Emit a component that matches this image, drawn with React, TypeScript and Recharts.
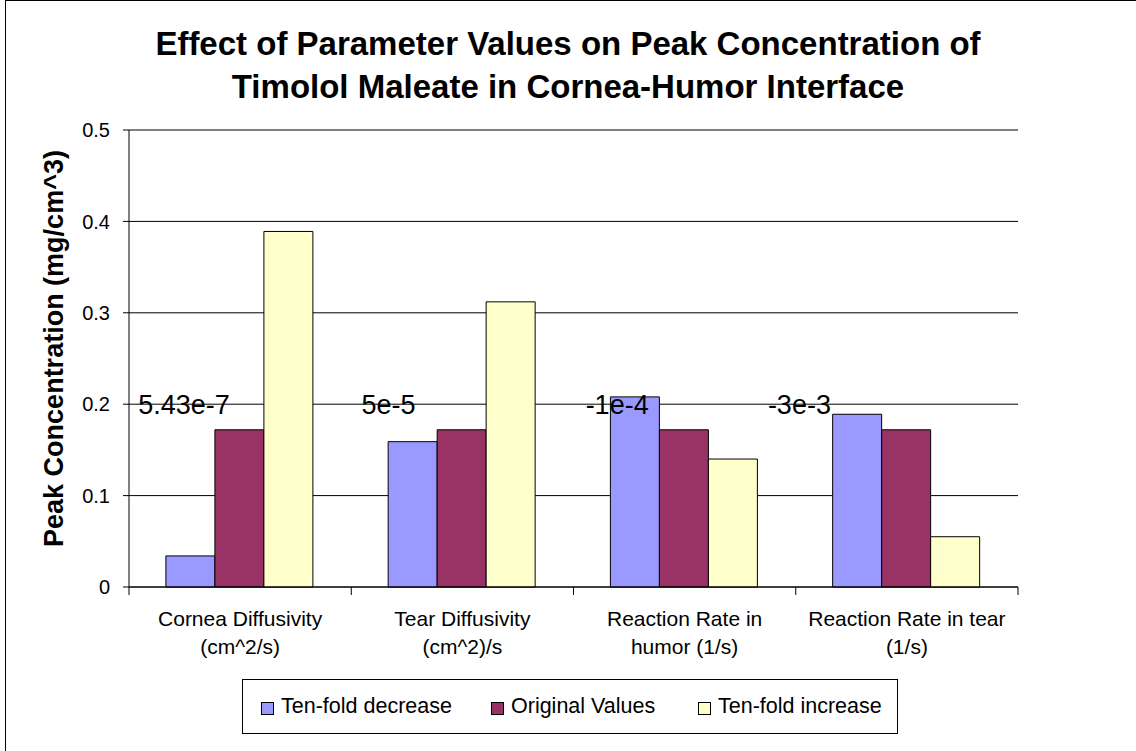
import React from 'react';
import { BarChart, Bar, XAxis, YAxis, CartesianGrid, Legend, ReferenceDot } from 'recharts';

const categories = [
  'Cornea Diffusivity\n(cm^2/s)',
  'Tear Diffusivity\n(cm^2)/s',
  'Reaction Rate in\nhumor (1/s)',
  'Reaction Rate in tear\n(1/s)',
];
const tenFoldDecrease = [0.034, 0.159, 0.208, 0.189];
const originalValues = [0.172, 0.172, 0.172, 0.172];
const tenFoldIncrease = [0.389, 0.312, 0.14, 0.055];
const parameterLabels = ['5.43e-7', '5e-5', '-1e-4', '-3e-3'];
const labelLevel = 0.2;
const yTicks = [0, 0.1, 0.2, 0.3, 0.4, 0.5];
const seriesNames = ['Ten-fold decrease', 'Original Values', 'Ten-fold increase'];
const seriesKeys = ['decrease', 'original', 'increase'];
const seriesColors = ['#9999FF', '#993366', '#FFFFCC'];
const titleLines = ['Effect of Parameter Values on Peak Concentration of', 'Timolol Maleate in Cornea-Humor Interface'];
const yAxisTitle = 'Peak Concentration (mg/cm^3)';

const data = categories.map((c, i) => ({
  name: c,
  decrease: tenFoldDecrease[i],
  original: originalValues[i],
  increase: tenFoldIncrease[i],
}));

const FONT = '"Liberation Sans", Arial, sans-serif';
const PLOT_LEFT = 129;
const PLOT_RIGHT = 1018;
const BAND = (PLOT_RIGHT - PLOT_LEFT) / categories.length;
const labelDx = [-102, -101, -99, -139];
const legendItemLeft = [18, 248, 455];

const CategoryTick = (props: any) => {
  const { x, y, payload, index } = props;
  const lines = String(payload.value).split('\n');
  return (
    <g>
      <line x1={x - BAND / 2} x2={x - BAND / 2} y1={y} y2={y + 8} stroke="#000" strokeWidth={1} />
      {index === categories.length - 1 && (
        <line x1={x + BAND / 2} x2={x + BAND / 2} y1={y} y2={y + 8} stroke="#000" strokeWidth={1} />
      )}
      {lines.map((l, i) => (
        <text key={i} x={x} y={y + 38.5 + i * 28} textAnchor="middle" fontSize={21} fontFamily={FONT} fill="#000">
          {l}
        </text>
      ))}
    </g>
  );
};

const renderLegend = () => (
  <div
    style={{
      position: 'relative',
      boxSizing: 'border-box',
      width: 656,
      height: 55,
      border: '1px solid #000',
      fontFamily: FONT,
      fontSize: 21.5,
      color: '#000',
      background: '#fff',
    }}
  >
    {seriesNames.map((n, i) => (
      <div
        key={n}
        style={{
          position: 'absolute',
          left: legendItemLeft[i],
          top: 0,
          height: 53,
          display: 'flex',
          alignItems: 'center',
          whiteSpace: 'nowrap',
        }}
      >
        <span
          style={{
            display: 'inline-block',
            boxSizing: 'border-box',
            width: 13,
            height: 13,
            border: '1px solid #000',
            background: seriesColors[i],
            marginRight: 7,
            marginTop: 3,
          }}
        />
        <span>{n}</span>
      </div>
    ))}
  </div>
);

export default function App() {
  return (
    <div style={{ position: 'absolute', left: 0, top: 0, width: 1136, height: 751, background: '#fff', overflow: 'hidden' }}>
      <div
        style={{
          position: 'absolute',
          left: 5,
          top: 0,
          width: 1200,
          height: 800,
          borderLeft: '1px solid #000',
          borderTop: '1px solid #000',
          boxSizing: 'border-box',
        }}
      />
      <BarChart
        width={1136}
        height={751}
        data={data}
        margin={{ top: 130, right: 1136 - PLOT_RIGHT, bottom: 17, left: 0 }}
        barGap={0}
        barCategoryGap="16.6%"
      >
        <CartesianGrid horizontal vertical={false} stroke="#000" strokeWidth={1} />
        <XAxis
          dataKey="name"
          height={92}
          interval={0}
          tickLine={false}
          tickSize={0}
          tickMargin={0}
          axisLine={{ stroke: '#000' }}
          tick={<CategoryTick />}
        />
        <YAxis
          width={PLOT_LEFT}
          domain={[0, 0.5]}
          ticks={yTicks}
          interval={0}
          tickSize={6}
          tickMargin={13}
          axisLine={{ stroke: '#000' }}
          tickLine={{ stroke: '#000' }}
          tick={{ fontSize: 20, fontFamily: FONT, fill: '#000' }}
        />
        <Legend
          content={renderLegend}
          wrapperStyle={{ position: 'absolute', left: 242, top: 679, bottom: 'auto', width: 656, height: 55 }}
        />
        {seriesKeys.map((k, i) => (
          <Bar
            key={k}
            dataKey={k}
            name={seriesNames[i]}
            fill={seriesColors[i]}
            stroke="#000"
            strokeWidth={1}
            isAnimationActive={false}
          />
        ))}
        {categories.map((c, i) => (
          <ReferenceDot
            key={c}
            x={c}
            y={labelLevel}
            r={0}
            fill="none"
            stroke="none"
            label={{
              content: (p: any) => {
                const vb = p.viewBox || {};
                return (
                  <text x={vb.x + labelDx[i]} y={vb.y + 10} fontSize={27} fontFamily={FONT} fill="#000">
                    {parameterLabels[i]}
                  </text>
                );
              },
            }}
          />
        ))}
      </BarChart>
      {titleLines.map((t, i) => (
        <div
          key={t}
          style={{
            position: 'absolute',
            left: 0,
            width: 1136,
            top: 22 + i * 43,
            textAlign: 'center',
            fontFamily: FONT,
            fontWeight: 'bold',
            fontSize: 33,
            lineHeight: '43px',
            color: '#000',
            paddingLeft: 0,
          }}
        >
          {t}
        </div>
      ))}
      <div
        style={{
          position: 'absolute',
          left: 54 - 300,
          top: 348 - 13.5,
          width: 600,
          height: 27,
          lineHeight: '27px',
          textAlign: 'center',
          fontFamily: FONT,
          fontWeight: 'bold',
          fontSize: 27,
          color: '#000',
          transform: 'rotate(-90deg)',
          whiteSpace: 'nowrap',
        }}
      >
        {yAxisTitle}
      </div>
    </div>
  );
}
